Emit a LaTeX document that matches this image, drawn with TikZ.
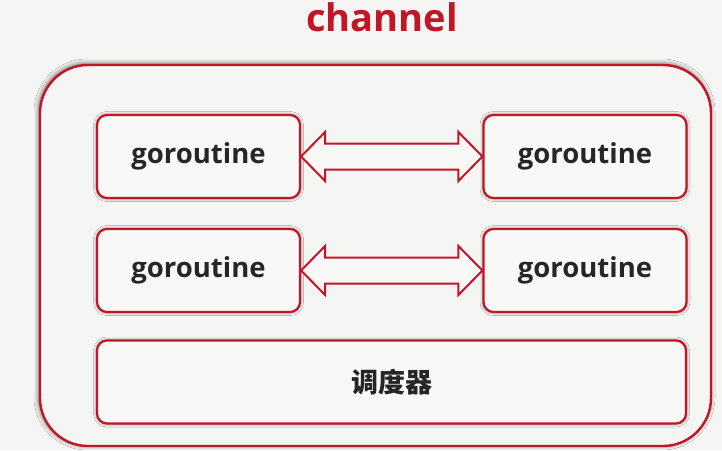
\documentclass[tikz,border=0pt]{standalone}
\usepackage{fontspec}
\setmainfont{Open Sans}
\newfontfamily\cjk{Noto Sans CJK SC}
\usetikzlibrary{calc,shadows.blur}
\definecolor{gored}{HTML}{C01628}
\definecolor{bgc}{HTML}{F5F5F3}
\definecolor{boxfill}{HTML}{F8F8F6}
\definecolor{txt}{HTML}{262626}
\tikzset{
  gobox/.style={draw=gored, line width=2.2pt, fill=boxfill, rounded corners=10pt,
    minimum width=203pt, minimum height=83pt, inner sep=0pt,
    font=\fontsize{27.5}{31}\selectfont\bfseries, text=txt,
    blur shadow={shadow xshift=0pt, shadow yshift=0pt, shadow blur radius=3.5pt, shadow opacity=60}},
  dblarrow/.style={draw=gored, line width=2pt, fill=boxfill, line join=miter},
}
\newcommand{\twoway}[2]{%
  \draw[dblarrow] (#1.east) -- ++(24,-24.5) -- ++(0,11.5)
    -- ($(#2.west)+(-24,-13)$) -- ++(0,-11.5) -- (#2.west)
    -- ++(-24,24.5) -- ++(0,-11.5) -- ($(#1.east)+(24,13)$) -- ++(0,11.5) -- cycle;}
\begin{document}
\begin{tikzpicture}[x=1pt,y=-1pt]
\useasboundingbox[fill=bgc] (0,0) rectangle (722,450);
\node[font=\fontsize{38}{42}\selectfont\bfseries, text=gored] (title) at (382,17) {channel};
\node[draw=gored, line width=2.4pt, fill=bgc, rounded corners=48pt,
  minimum width=671pt, minimum height=381pt, inner sep=0pt,
  blur shadow={shadow xshift=-1pt, shadow yshift=1pt, shadow blur radius=5pt, shadow opacity=70}]
  (outer) at (375.5,255.5) {};
\node[gobox] (g1) at (198.5,156.5) {goroutine};
\node[gobox] (g2) at (585,156.5) {goroutine};
\node[gobox] (g3) at (198.5,270.5) {goroutine};
\node[gobox] (g4) at (585,270.5) {goroutine};
\node[gobox, minimum width=589pt, font=\cjk\fontsize{27}{31}\selectfont\bfseries] (sched) at (391.5,382) {调度器};
\twoway{g1}{g2}
\twoway{g3}{g4}
\end{tikzpicture}
\end{document}
